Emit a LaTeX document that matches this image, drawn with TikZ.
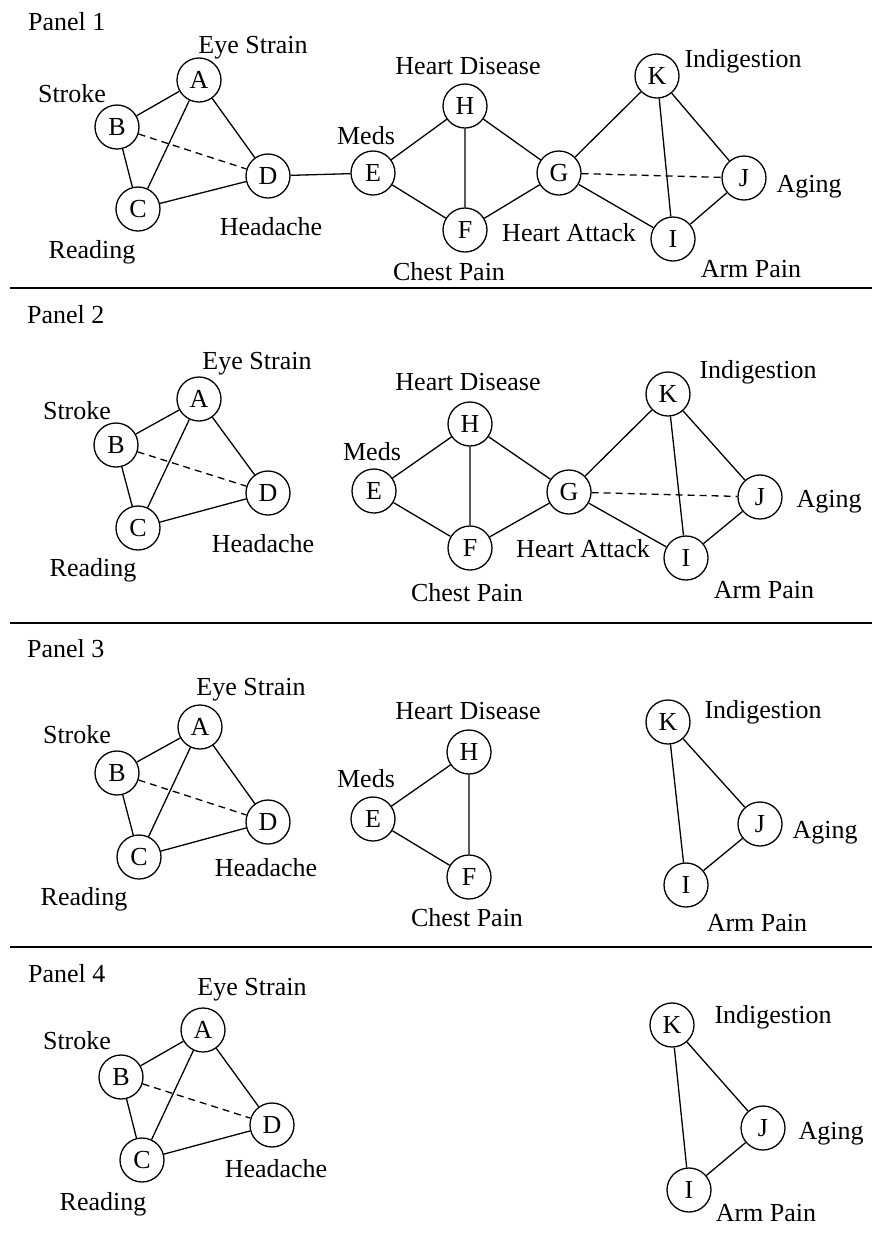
\documentclass[tikz,border=0pt]{standalone}
\usepackage{fontspec}
\setmainfont{Liberation Serif}
\begin{document}
\begin{tikzpicture}[x=1pt,y=-1pt,
  every node/.style={font=\fontsize{26}{30}\selectfont},
  vtx/.style={circle,draw,line width=1.3pt,minimum size=44pt,inner sep=0pt,fill=white},
  lbl/.style={anchor=base,inner sep=0pt},
  ttl/.style={anchor=base west,inner sep=0pt},
  edge/.style={line width=1.3pt},
  weak/.style={line width=1.3pt,dash pattern=on 7pt off 5pt},
  sep/.style={line width=2pt}]
\useasboundingbox (0,0) rectangle (872,1259);

% ---------------- Panel 1 ----------------
\node[ttl] (t1) at (28,30) {Panel 1};
\node[vtx] (a1) at (199,80) {A};
\node[vtx] (b1) at (117,127) {B};
\node[vtx] (c1) at (138,209) {C};
\node[vtx] (d1) at (268,176) {D};
\node[vtx] (e1) at (373,173) {E};
\node[vtx] (h1) at (465,106) {H};
\node[vtx] (f1) at (465,230) {F};
\node[vtx] (g1) at (559,173) {G};
\node[vtx] (k1) at (657,76) {K};
\node[vtx] (j1) at (744,178) {J};
\node[vtx] (i1) at (673,239) {I};
\node[lbl] (la1) at (253,53) {Eye Strain};
\node[lbl] (lb1) at (72,102) {Stroke};
\node[lbl] (ld1) at (271,235) {Headache};
\node[lbl] (lc1) at (92,258) {Reading};
\node[lbl] (lh1) at (468,74) {Heart Disease};
\node[lbl] (le1) at (366,144) {Meds};
\node[lbl] (lf1) at (449,280) {Chest Pain};
\node[lbl] (lg1) at (569,241) {Heart Attack};
\node[lbl] (lk1) at (743,67) {Indigestion};
\node[lbl] (lj1) at (809,192) {Aging};
\node[lbl] (li1) at (751,277) {Arm Pain};
\draw[edge] (a1)--(b1) (a1)--(c1) (a1)--(d1) (b1)--(c1) (c1)--(d1);
\draw[weak] (b1)--(d1);
\draw[edge] (d1)--(e1);
\draw[edge] (e1)--(h1) (e1)--(f1) (h1)--(f1) (h1)--(g1) (f1)--(g1);
\draw[edge] (g1)--(k1) (g1)--(i1) (k1)--(i1) (k1)--(j1) (j1)--(i1);
\draw[weak] (g1)--(j1);
\coordinate (s1l) at (10,288); \coordinate (s1r) at (872,288);
\draw[sep] (s1l)--(s1r);

% ---------------- Panel 2 ----------------
\node[ttl] (t2) at (27,323) {Panel 2};
\node[vtx] (a2) at (199,399) {A};
\node[vtx] (b2) at (116,445) {B};
\node[vtx] (c2) at (138,528) {C};
\node[vtx] (d2) at (268,493) {D};
\node[vtx] (e2) at (374,491) {E};
\node[vtx] (h2) at (470,424) {H};
\node[vtx] (f2) at (470,548) {F};
\node[vtx] (g2) at (569,492) {G};
\node[vtx] (k2) at (668,394) {K};
\node[vtx] (j2) at (760,497) {J};
\node[vtx] (i2) at (686,558) {I};
\node[lbl] (la2) at (257,369) {Eye Strain};
\node[lbl] (lb2) at (77,419) {Stroke};
\node[lbl] (ld2) at (263,552) {Headache};
\node[lbl] (lc2) at (93,576) {Reading};
\node[lbl] (lh2) at (468,390) {Heart Disease};
\node[lbl] (le2) at (372,460) {Meds};
\node[lbl] (lf2) at (467,601) {Chest Pain};
\node[lbl] (lg2) at (583,557) {Heart Attack};
\node[lbl] (lk2) at (758,378) {Indigestion};
\node[lbl] (lj2) at (829,507) {Aging};
\node[lbl] (li2) at (764,598) {Arm Pain};
\draw[edge] (a2)--(b2) (a2)--(c2) (a2)--(d2) (b2)--(c2) (c2)--(d2);
\draw[weak] (b2)--(d2);
\draw[edge] (e2)--(h2) (e2)--(f2) (h2)--(f2) (h2)--(g2) (f2)--(g2);
\draw[edge] (g2)--(k2) (g2)--(i2) (k2)--(i2) (k2)--(j2) (j2)--(i2);
\draw[weak] (g2)--(j2);
\coordinate (s2l) at (10,623); \coordinate (s2r) at (872,623);
\draw[sep] (s2l)--(s2r);

% ---------------- Panel 3 ----------------
\node[ttl] (t3) at (27,657) {Panel 3};
\node[vtx] (a3) at (200,727) {A};
\node[vtx] (b3) at (117,773) {B};
\node[vtx] (c3) at (139,857) {C};
\node[vtx] (d3) at (268,822) {D};
\node[vtx] (e3) at (373,819) {E};
\node[vtx] (h3) at (469,752) {H};
\node[vtx] (f3) at (469,877) {F};
\node[vtx] (k3) at (668,722) {K};
\node[vtx] (j3) at (760,824) {J};
\node[vtx] (i3) at (686,885) {I};
\node[lbl] (la3) at (251,695) {Eye Strain};
\node[lbl] (lb3) at (77,743) {Stroke};
\node[lbl] (ld3) at (266,876) {Headache};
\node[lbl] (lc3) at (84,905) {Reading};
\node[lbl] (lh3) at (468,719) {Heart Disease};
\node[lbl] (le3) at (366,787) {Meds};
\node[lbl] (lf3) at (467,926) {Chest Pain};
\node[lbl] (lk3) at (763,718) {Indigestion};
\node[lbl] (lj3) at (825,838) {Aging};
\node[lbl] (li3) at (757,931) {Arm Pain};
\draw[edge] (a3)--(b3) (a3)--(c3) (a3)--(d3) (b3)--(c3) (c3)--(d3);
\draw[weak] (b3)--(d3);
\draw[edge] (e3)--(h3) (e3)--(f3) (h3)--(f3);
\draw[edge] (k3)--(i3) (k3)--(j3) (j3)--(i3);
\coordinate (s3l) at (10,947); \coordinate (s3r) at (872,947);
\draw[sep] (s3l)--(s3r);

% ---------------- Panel 4 ----------------
\node[ttl] (t4) at (28,982) {Panel 4};
\node[vtx] (a4) at (203,1030) {A};
\node[vtx] (b4) at (121,1077) {B};
\node[vtx] (c4) at (142,1160) {C};
\node[vtx] (d4) at (272,1125) {D};
\node[vtx] (k4) at (672,1025) {K};
\node[vtx] (j4) at (763,1128) {J};
\node[vtx] (i4) at (689,1190) {I};
\node[lbl] (la4) at (252,995) {Eye Strain};
\node[lbl] (lb4) at (77,1049) {Stroke};
\node[lbl] (ld4) at (276,1177) {Headache};
\node[lbl] (lc4) at (103,1210) {Reading};
\node[lbl] (lk4) at (773,1023) {Indigestion};
\node[lbl] (lj4) at (831,1139) {Aging};
\node[lbl] (li4) at (766,1221) {Arm Pain};
\draw[edge] (a4)--(b4) (a4)--(c4) (a4)--(d4) (b4)--(c4) (c4)--(d4);
\draw[weak] (b4)--(d4);
\draw[edge] (k4)--(i4) (k4)--(j4) (j4)--(i4);
\end{tikzpicture}
\end{document}
